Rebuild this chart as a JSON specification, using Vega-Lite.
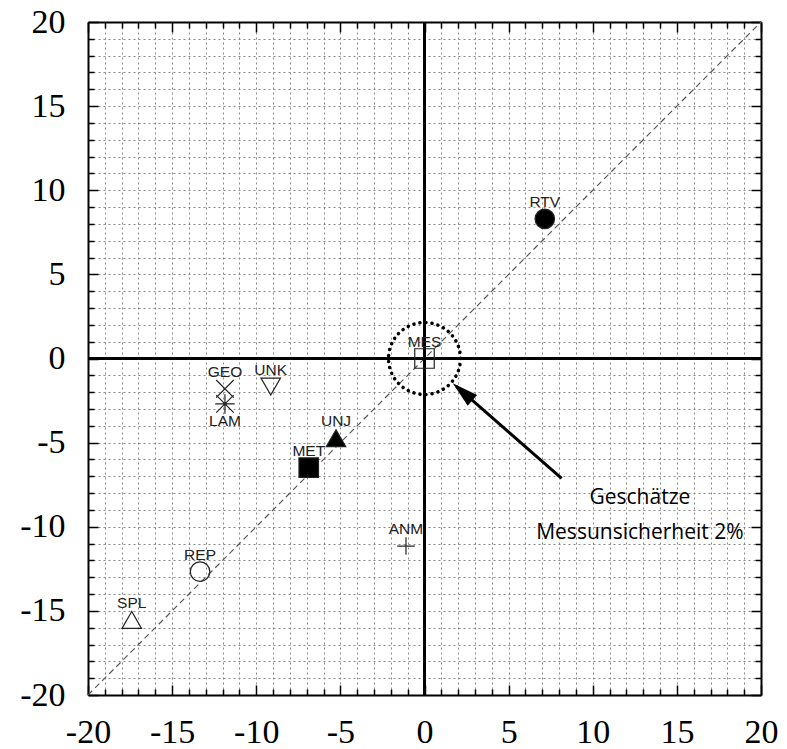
{
  "$schema": "https://vega.github.io/schema/vega-lite/v6.json",
  "autosize": {"type": "none"},
  "padding": {"left": 88, "top": 22, "right": 26, "bottom": 54},
  "width": 673,
  "height": 673,
  "background": "white",
  "config": {
    "view": {"stroke": null},
    "axis": {"labelFont": "Liberation Serif, Times New Roman, serif", "labelFontSize": 34, "labelColor": "black"}
  },
  "datasets": {
    "methods": [
      {"name": "RTV", "x": 7.15, "y": 8.3},
      {"name": "MES", "x": 0.0, "y": 0.0},
      {"name": "GEO", "x": -11.86, "y": -1.8},
      {"name": "LAM", "x": -11.86, "y": -2.7},
      {"name": "UNK", "x": -9.14, "y": -1.67},
      {"name": "UNJ", "x": -5.26, "y": -4.74},
      {"name": "MET", "x": -6.88, "y": -6.49},
      {"name": "REP", "x": -13.34, "y": -12.67},
      {"name": "SPL", "x": -17.4, "y": -15.54},
      {"name": "ANM", "x": -1.1, "y": -11.15}
    ],
    "single": [{}]
  },
  "resolve": {"axis": {"x": "independent", "y": "independent"}},
  "layer": [
    {
      "description": "dashed identity line y = x, carrying the labelled axes and the grid",
      "data": {"name": "single"},
      "mark": {"type": "rule", "color": "#555", "strokeWidth": 1.2, "strokeDash": [6, 4]},
      "encoding": {
        "x": {
          "datum": -20,
          "type": "quantitative",
          "scale": {"domain": [-20, 20], "nice": false, "zero": false},
          "axis": {
            "orient": "bottom", "title": null,
            "values": [-20, -19, -18, -17, -16, -15, -14, -13, -12, -11, -10, -9, -8, -7, -6, -5, -4, -3, -2, -1, 0, 1, 2, 3, 4, 5, 6, 7, 8, 9, 10, 11, 12, 13, 14, 15, 16, 17, 18, 19, 20],
            "grid": true, "gridDash": [2, 3], "gridColor": "#888", "gridWidth": 1,
            "tickSize": {"condition": {"test": "datum.value % 5 === 0", "value": -10}, "value": -6},
            "tickColor": "black", "tickWidth": 1.5,
            "domainColor": "black", "domainWidth": 2,
            "labelExpr": "datum.value % 5 === 0 ? '' + datum.value : ''",
            "labelFont": "Liberation Serif, Times New Roman, serif", "labelFontSize": 34, "labelColor": "black",
            "labelPadding": 30, "labelFlush": false, "labelOverlap": false, "labelBound": false
          }
        },
        "y": {
          "datum": -20,
          "type": "quantitative",
          "scale": {"domain": [-20, 20], "nice": false, "zero": false},
          "axis": {
            "orient": "left", "title": null,
            "values": [-20, -19, -18, -17, -16, -15, -14, -13, -12, -11, -10, -9, -8, -7, -6, -5, -4, -3, -2, -1, 0, 1, 2, 3, 4, 5, 6, 7, 8, 9, 10, 11, 12, 13, 14, 15, 16, 17, 18, 19, 20],
            "grid": true, "gridDash": [2, 3], "gridColor": "#888", "gridWidth": 1,
            "tickSize": {"condition": {"test": "datum.value % 5 === 0", "value": -10}, "value": -6},
            "tickColor": "black", "tickWidth": 1.5,
            "domainColor": "black", "domainWidth": 2,
            "labelExpr": "datum.value % 5 === 0 ? '' + datum.value : ''",
            "labelFont": "Liberation Serif, Times New Roman, serif", "labelFontSize": 34, "labelColor": "black",
            "labelPadding": 33, "labelFlush": false, "labelOverlap": false, "labelBound": false
          }
        },
        "x2": {"datum": 20},
        "y2": {"datum": 20}
      }
    },
    {
      "description": "vertical zero line, carrying the top and right tick-only axes",
      "data": {"name": "single"},
      "mark": {"type": "rule", "color": "black", "strokeWidth": 3},
      "encoding": {
        "x": {
          "datum": 0,
          "type": "quantitative",
          "axis": {
            "orient": "top", "title": null,
            "values": [-20, -19, -18, -17, -16, -15, -14, -13, -12, -11, -10, -9, -8, -7, -6, -5, -4, -3, -2, -1, 0, 1, 2, 3, 4, 5, 6, 7, 8, 9, 10, 11, 12, 13, 14, 15, 16, 17, 18, 19, 20],
            "grid": false, "labels": false,
            "tickSize": {"condition": {"test": "datum.value % 5 === 0", "value": -10}, "value": -6},
            "tickColor": "black", "tickWidth": 1.5,
            "domainColor": "black", "domainWidth": 2
          }
        },
        "y": {
          "datum": -20,
          "type": "quantitative",
          "axis": {
            "orient": "right", "title": null,
            "values": [-20, -19, -18, -17, -16, -15, -14, -13, -12, -11, -10, -9, -8, -7, -6, -5, -4, -3, -2, -1, 0, 1, 2, 3, 4, 5, 6, 7, 8, 9, 10, 11, 12, 13, 14, 15, 16, 17, 18, 19, 20],
            "grid": false, "labels": false,
            "tickSize": {"condition": {"test": "datum.value % 5 === 0", "value": -10}, "value": -6},
            "tickColor": "black", "tickWidth": 1.5,
            "domainColor": "black", "domainWidth": 2
          }
        },
        "y2": {"datum": 20}
      }
    },
    {
      "description": "horizontal zero line",
      "data": {"name": "single"},
      "mark": {"type": "rule", "color": "black", "strokeWidth": 3},
      "encoding": {
        "x": {"datum": -20, "type": "quantitative", "axis": null},
        "x2": {"datum": 20},
        "y": {"datum": 0, "type": "quantitative", "axis": null}
      }
    },
    {
      "description": "dotted circle of the estimated measurement uncertainty",
      "data": {"name": "single"},
      "mark": {"type": "point", "shape": "circle", "filled": false, "color": "black", "size": 5184, "strokeWidth": 3.5, "strokeDash": [0.1, 6], "strokeCap": "round", "opacity": 1},
      "encoding": {
        "x": {"datum": 0, "type": "quantitative", "axis": null},
        "y": {"datum": 0, "type": "quantitative", "axis": null}
      }
    },
    {
      "description": "arrow shaft",
      "data": {"name": "single"},
      "mark": {"type": "rule", "color": "black", "strokeWidth": 3},
      "encoding": {
        "x": {"datum": 8.15, "type": "quantitative", "axis": null},
        "y": {"datum": -7.12, "type": "quantitative", "axis": null},
        "x2": {"datum": 1.9},
        "y2": {"datum": -1.66}
      }
    },
    {
      "description": "arrow head",
      "data": {"name": "single"},
      "mark": {"type": "point", "shape": "M0,0L0.55,2L-0.55,2Z", "filled": true, "color": "black", "size": 676, "angle": 311, "opacity": 1},
      "encoding": {
        "x": {"datum": 1.68, "type": "quantitative", "axis": null},
        "y": {"datum": -1.47, "type": "quantitative", "axis": null}
      }
    },
    {
      "description": "one marker per method",
      "data": {"name": "methods"},
      "mark": {"type": "point", "size": 380, "strokeWidth": 1.2, "opacity": 1},
      "encoding": {
        "x": {"field": "x", "type": "quantitative", "axis": null},
        "y": {"field": "y", "type": "quantitative", "axis": null},
        "shape": {
          "field": "name",
          "type": "nominal",
          "legend": null,
          "scale": {
            "domain": ["RTV", "MES", "GEO", "LAM", "UNK", "UNJ", "MET", "REP", "SPL", "ANM"],
            "range": [
              "circle", "square",
              "M-0.9,-0.9L0.9,0.9M-0.9,0.9L0.9,-0.9",
              "M-0.9,-0.9L0.9,0.9M-0.9,0.9L0.9,-0.9M-1,0L1,0M0,-1L0,1",
              "triangle-down", "triangle-up", "square", "circle", "triangle-up",
              "M-0.9,0L0.9,0M0,-0.9L0,0.9"
            ]
          }
        },
        "stroke": {"value": "#222"},
        "fill": {
          "condition": {"test": "indexof(['RTV', 'MET', 'UNJ'], datum.name) >= 0", "value": "black"},
          "value": "transparent"
        }
      }
    },
    {
      "description": "labels above the markers",
      "data": {"name": "methods"},
      "transform": [{"filter": "datum.name !== 'LAM'"}],
      "mark": {"type": "text", "dy": -17, "font": "Liberation Sans", "fontSize": 15.5, "color": "#222", "baseline": "middle", "align": "center"},
      "encoding": {
        "x": {"field": "x", "type": "quantitative", "axis": null},
        "y": {"field": "y", "type": "quantitative", "axis": null},
        "text": {"field": "name"}
      }
    },
    {
      "description": "label below its marker",
      "data": {"name": "methods"},
      "transform": [{"filter": "datum.name === 'LAM'"}],
      "mark": {"type": "text", "dy": 17, "font": "Liberation Sans", "fontSize": 15.5, "color": "#222", "baseline": "middle", "align": "center"},
      "encoding": {
        "x": {"field": "x", "type": "quantitative", "axis": null},
        "y": {"field": "y", "type": "quantitative", "axis": null},
        "text": {"field": "name"}
      }
    },
    {
      "description": "annotation of the arrow",
      "data": {"name": "single"},
      "mark": {"type": "text", "text": ["Geschätze", "Messunsicherheit 2%"], "lineHeight": 35, "font": "Open Sans", "fontSize": 21, "fontWeight": "normal", "color": "black", "baseline": "middle", "align": "center"},
      "encoding": {
        "x": {"datum": 12.8, "type": "quantitative", "axis": null},
        "y": {"datum": -8.32, "type": "quantitative", "axis": null}
      }
    }
  ]
}
